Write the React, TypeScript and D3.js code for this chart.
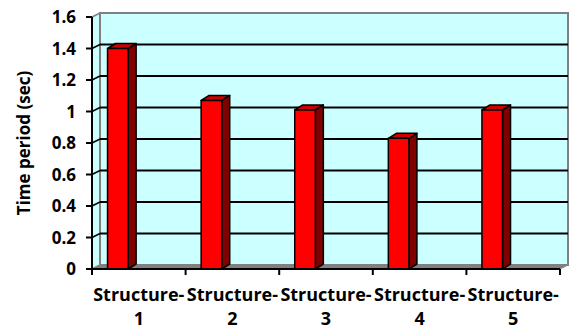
import React from "react";
import * as d3 from "d3";

const categories: string[] = ["Structure-1", "Structure-2", "Structure-3", "Structure-4", "Structure-5"];
const timePeriod: number[] = [1.4, 1.07, 1.01, 0.83, 1.01];
const yTicks: number[] = [0, 0.2, 0.4, 0.6, 0.8, 1, 1.2, 1.4, 1.6];
const yTitle = "Time period (sec)";

const W = 569;
const H = 330;
const left = 92;
const right = 560;
const bottom = 269;
const top = 17;
const wallDx = 8;
const wallDy = -4;
const barDx = 8;
const barDy = -5;
const font = "'Open Sans', sans-serif";

export default function App() {
  const x = d3.scaleBand<string>().domain(categories).range([left, right]).padding(0);
  const y = d3.scaleLinear().domain([0, 1.6]).range([bottom, top]);
  const bw = x.bandwidth();
  const barOff = bw * 0.166;
  const barW = bw * 0.22;
  const bx0 = left + wallDx;
  const bx1 = right + wallDx;

  return (
    <svg
      width={W}
      height={H}
      style={{ position: "absolute", left: 0, top: 0, background: "#fff" }}
      fontFamily={font}
    >
      {/* left side wall */}
      <polygon
        points={`${left},${y(0)} ${bx0},${y(0) + wallDy} ${bx0},${y(1.6) + wallDy} ${left},${y(1.6)}`}
        fill="#CCFFFF"
        stroke="#808080"
        strokeWidth={1.5}
      />
      {/* back wall */}
      <rect
        x={bx0}
        y={y(1.6) + wallDy}
        width={bx1 - bx0}
        height={y(0) - y(1.6)}
        fill="#CCFFFF"
        stroke="#808080"
        strokeWidth={2}
      />
      {/* gridlines */}
      {yTicks.filter((t) => t > 0 && t < 1.6).map((t) => (
        <g key={"g" + t}>
          <line x1={bx0} x2={bx1} y1={y(t) + wallDy} y2={y(t) + wallDy} stroke="#000" strokeWidth={2} />
          <line x1={left} x2={bx0} y1={y(t)} y2={y(t) + wallDy} stroke="#000" strokeWidth={1.5} />
        </g>
      ))}
      {/* floor */}
      <polygon
        points={`${left},${y(0)} ${right},${y(0)} ${bx1},${y(0) + wallDy} ${bx0},${y(0) + wallDy}`}
        fill="#808080"
        stroke="#808080"
        strokeWidth={1}
      />
      {/* bars */}
      {categories.map((c, i) => {
        const v = timePeriod[i];
        const x0 = (x(c) as number) + barOff;
        const x1 = x0 + barW;
        const yt = y(v);
        const yb = y(0);
        return (
          <g key={c} stroke="#000" strokeWidth={1.5} strokeLinejoin="round">
            <polygon
              points={`${x1},${yb} ${x1 + barDx},${yb + barDy} ${x1 + barDx},${yt + barDy} ${x1},${yt}`}
              fill="#800000"
            />
            <polygon
              points={`${x0},${yt} ${x1},${yt} ${x1 + barDx},${yt + barDy} ${x0 + barDx},${yt + barDy}`}
              fill="#CC0000"
            />
            <rect x={x0} y={yt} width={barW} height={yb - yt} fill="#FF0000" />
          </g>
        );
      })}
      {/* y axis */}
      <line x1={left} x2={left} y1={y(1.6)} y2={y(0)} stroke="#000" strokeWidth={2} />
      {yTicks.map((t) => (
        <g key={"t" + t}>
          <line x1={left - 6} x2={left} y1={y(t)} y2={y(t)} stroke="#000" strokeWidth={2} />
          <text
            x={left - 16}
            y={y(t)}
            dy="0.36em"
            textAnchor="end"
            fontSize={17}
            fontWeight="bold"
            fill="#000"
          >
            {d3.format("")(t)}
          </text>
        </g>
      ))}
      {/* x axis */}
      <line x1={left} x2={right} y1={y(0)} y2={y(0)} stroke="#000" strokeWidth={2} />
      {[...categories.map((c) => x(c) as number), right].map((xx, i) => (
        <line key={"xt" + i} x1={xx} x2={xx} y1={y(0)} y2={y(0) + 6} stroke="#000" strokeWidth={2} />
      ))}
      {categories.map((c) => {
        const parts = c.split("-");
        const cx = (x(c) as number) + bw / 2;
        return (
          <text key={"xl" + c} x={cx} textAnchor="middle" fontSize={18} fontWeight="bold" fill="#000">
            <tspan x={cx} y={301}>{parts[0] + "-"}</tspan>
            <tspan x={cx} y={325}>{parts[1]}</tspan>
          </text>
        );
      })}
      {/* y title */}
      <text
        transform={`translate(30,143) rotate(-90)`}
        textAnchor="middle"
        fontSize={17}
        fontWeight="bold"
        fill="#000"
      >
        {yTitle}
      </text>
    </svg>
  );
}
